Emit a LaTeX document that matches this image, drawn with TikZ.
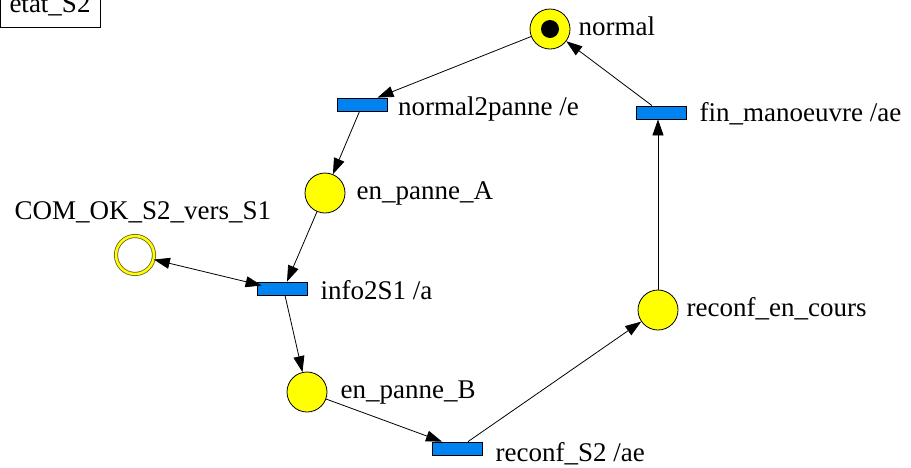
\documentclass[tikz,border=0pt]{standalone}
\usepackage{fontspec}
\setmainfont{Liberation Serif}
\usetikzlibrary{positioning,arrows.meta}

\definecolor{placeyellow}{RGB}{255,255,0}
\definecolor{transblue}{RGB}{0,130,240}

\tikzset{
	place/.style={circle, draw=black, fill=placeyellow, line width=0.8pt, minimum size=40pt, inner sep=0pt},
	trans/.style={rectangle, draw=black, fill=transblue, line width=0.8pt, minimum width=50pt, minimum height=13pt, inner sep=0pt},
	lbl/.style={font=\fontsize{27}{30}\selectfont, text height=19pt, text depth=6pt, inner sep=0pt},
	arc/.style={line width=0.8pt, -{Triangle[length=16pt,width=11pt]}},
}

\begin{document}
\begin{tikzpicture}[x=1pt, y=-1pt]

	\useasboundingbox (0,0) rectangle (911,467);

	\node[lbl, draw, line width=0.8pt, minimum width=100pt, inner ysep=9pt, anchor=south] (etat) at (50,28) {etat\_S2};

	\node[place] (normal) at (550,29) {};
	\fill[black] (normal) circle [radius=9pt];
	\node[place] (panneA) at (325,193) {};
	\node[circle, draw=olive!60!black, double=placeyellow, double distance=2.5pt, line width=0.8pt, fill=white, minimum size=38pt, inner sep=0pt] (comok) at (135,255) {};
	\node[place] (panneB) at (307,392) {};
	\node[place] (reconf) at (658,310) {};

	\node[trans] (n2p) at (362.5,104.5) {};
	\node[trans] (fin) at (661,112.5) {};
	\node[trans] (info) at (282,288.5) {};
	\node[trans] (rs2) at (457,448.5) {};

	\node[lbl, right=8pt of normal] (normallbl) {normal};
	\node[lbl, right=11pt of panneA] (panneAlbl) {en\_panne\_A};
	\node[lbl] (comoklbl) at (143,213) {COM\_OK\_S2\_vers\_S1};
	\node[lbl, right=13pt of panneB] (panneBlbl) {en\_panne\_B};
	\node[lbl, right=8pt of reconf] (reconflbl) {reconf\_en\_cours};

	\node[lbl, right=10pt of n2p, yshift=-4pt] (n2plbl) {normal2panne /e};
	\node[lbl, right=13pt of fin, yshift=-2pt] (finlbl) {fin\_manoeuvre /ae};
	\node[lbl, right=13pt of info, yshift=-4pt] (infolbl) {info2S1 /a};
	\node[lbl, right=13pt of rs2, yshift=-6pt] (rs2lbl) {reconf\_S2 /ae};

	\draw[arc] (normal) -- ([xshift=15pt]n2p.north);
	\draw[arc] ([xshift=-3pt]n2p.south) -- (panneA);
	\draw[arc] (panneA) -- ([xshift=5pt]info.north);
	\draw[arc, {Triangle[length=16pt,width=11pt]}-{Triangle[length=16pt,width=11pt]}] (comok) -- ([xshift=5pt,yshift=3pt]info.west);
	\draw[arc] ([xshift=3pt]info.south) -- (panneB);
	\draw[arc] (panneB) -- ([xshift=-15pt]rs2.north);
	\draw[arc] ([xshift=11pt]rs2.north) -- (reconf);
	\draw[arc] (reconf) -- (reconf |- fin.south);
	\draw[arc] ([xshift=-9pt]fin.north) -- (normal);

\end{tikzpicture}
\end{document}
